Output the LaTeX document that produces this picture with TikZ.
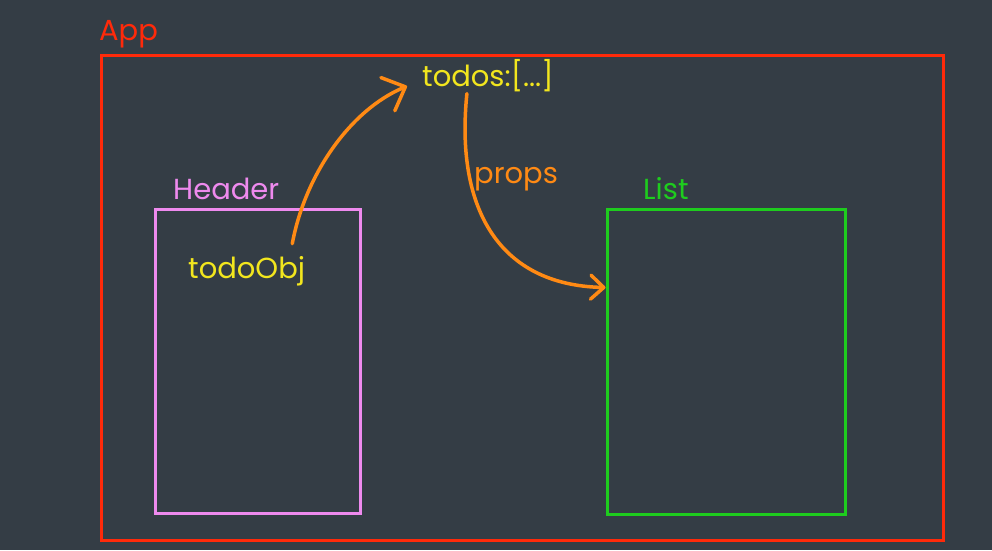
\documentclass[tikz,border=0pt]{standalone}
\usepackage{fontspec}
\setmainfont{Poppins}
\usetikzlibrary{arrows.meta, positioning, calc}
\definecolor{bgSlate}{HTML}{343D45}
\definecolor{appRed}{HTML}{FF2A0A}
\definecolor{headerPink}{HTML}{EE8AEE}
\definecolor{listGreen}{HTML}{1ECC1E}
\definecolor{dataYellow}{HTML}{F2E61E}
\definecolor{flowOrange}{HTML}{FF8A14}

\begin{document}
\begin{tikzpicture}[
    x=1pt, y=-1pt,
    comp/.style={draw, line width=3pt, inner sep=0pt},
    lbl/.style={inner sep=0pt, anchor=base west, font=\fontsize{29}{32}\selectfont},
    flow/.style={draw=flowOrange, line width=3.5pt, line cap=round},
]
    % Background
    \fill[bgSlate] (0,0) rectangle (992,550);

    % Components
    \node[comp, draw=appRed, minimum width=842pt, minimum height=485pt] (app) at (522,297.5) {};
    \node[comp, draw=headerPink, minimum width=205pt, minimum height=304pt] (header) at (257.5,361) {};
    \node[comp, draw=listGreen, minimum width=238pt, minimum height=305pt] (list) at (726,361.5) {};

    % Labels
    \node[lbl, text=appRed] (appLbl) at (99,40) {App};
    \node[lbl, text=headerPink] (headerLbl) at (173,199) {Header};
    \node[lbl, text=listGreen] (listLbl) at (643,199) {List};
    \node[lbl, text=dataYellow] (todos) at (422,86) {todos:[...]};
    \node[lbl, text=dataYellow] (todoObj) at (188,278) {todoObj};
    \node[lbl, text=flowOrange] (propsLbl) at (474,183) {props};

    % Data flow
    \draw[flow, -{Straight Barb[length=19pt, width=36pt, round]}]
        ([xshift=-13pt, yshift=12pt]todoObj.north east) .. controls (305,175) and (350,110) .. ([xshift=-15pt, yshift=-11pt]todos.west);
    \draw[flow, -{Straight Barb[length=13pt, width=24pt, round]}]
        ([xshift=-21pt, yshift=-2pt]todos.south) .. controls (455,210) and (500,285) .. ([yshift=74pt]list.west);
\end{tikzpicture}
\end{document}
